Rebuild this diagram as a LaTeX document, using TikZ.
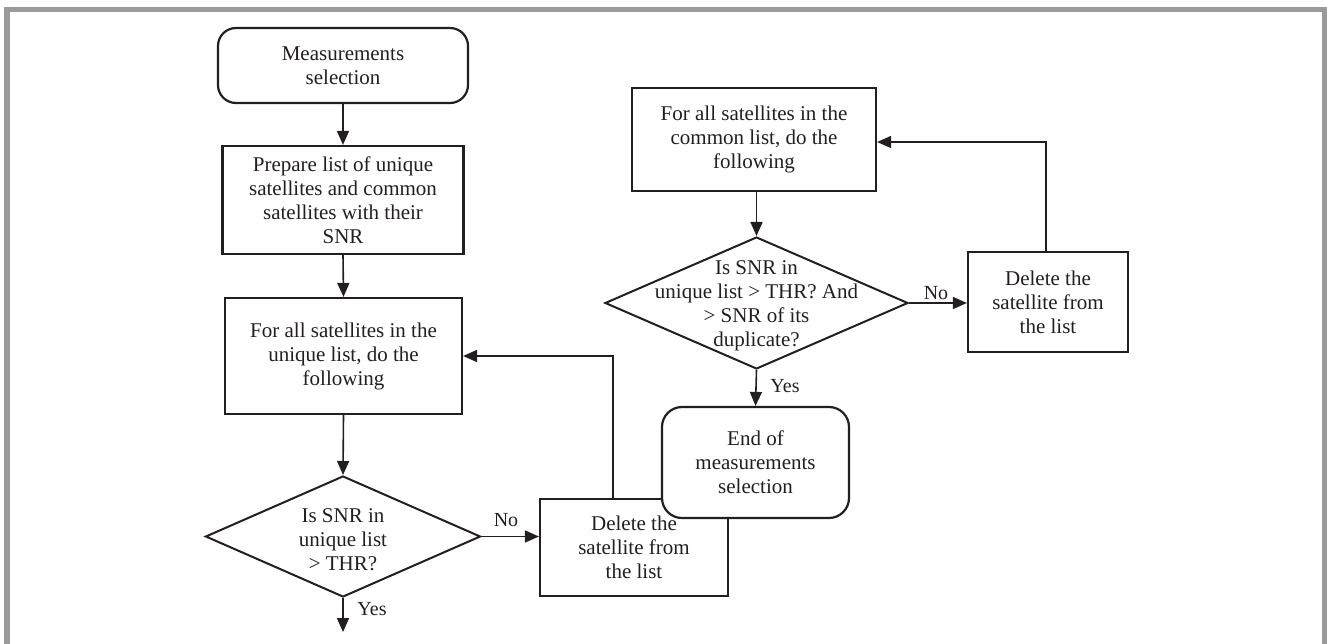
\documentclass[tikz,border=0pt]{standalone}
\usepackage{fontspec}
\setmainfont{Liberation Serif}
\usetikzlibrary{arrows.meta,shapes.geometric}
\definecolor{ink}{HTML}{231F20}
\definecolor{framegray}{HTML}{9A9A9A}
\begin{document}
\begin{tikzpicture}[x=1pt,y=-1pt,
  font=\fontsize{21}{24}\selectfont,
  every node/.style={text=ink},
  box/.style={draw=ink, line width=2.2pt, fill=white, align=center, inner sep=0pt},
  term/.style={box, rounded corners=18pt},
  decision/.style={draw=ink, line width=2pt, shape=diamond, inner sep=0pt},
  caption/.style={align=center, inner sep=0pt},
  link/.style={draw=ink, line width=1.6pt, -{Triangle[length=14pt,width=12pt]}},
  lbl/.style={font=\fontsize{20}{22}\selectfont, inner sep=0pt}]

\useasboundingbox (0,0) rectangle (1327,644);

% outer frame (open at the bottom edge of the page)
\begin{scope}
  \clip (0,0) rectangle (1327,644);
  \draw[framegray, line width=5.5pt] (7,9.5) rectangle (1324.5,700);
\end{scope}

% left column: unique satellites
\node[term, minimum width=250pt, minimum height=75pt] (start) at (343,65.5)
  {Measurements\\selection};
\node[box, minimum width=241pt, minimum height=108pt] (prep) at (343,200)
  {Prepare list of unique\\satellites and common\\satellites with their\\SNR};
\node[box, minimum width=237pt, minimum height=116pt] (uniq) at (343.5,356)
  {For all satellites in the\\unique list, do the\\following};
\node[decision, minimum width=275pt, minimum height=121pt] (d1) at (343,536.5) {};
\node[caption] (d1text) at (343,540) {Is SNR in\\unique list\\> THR?};
\node[box, minimum width=188pt, minimum height=97pt] (del1) at (634,547.5)
  {Delete the\\satellite from\\the list};

% right column: common satellites
\node[box, minimum width=244pt, minimum height=103pt] (common) at (754,139.5)
  {For all satellites in the\\common list, do the\\following};
\node[decision, minimum width=303pt, minimum height=132pt] (d2) at (756.5,303) {};
\node[caption] (d2text) at (756.5,306)
  {Is SNR in\\unique list > THR? And\\> SNR of its\\duplicate?};
\node[box, minimum width=160pt, minimum height=100pt] (del2) at (1048,302)
  {Delete the\\satellite from\\the list};
\node[term, rounded corners=20pt, minimum width=187pt, minimum height=111pt] (end) at (755.5,462.5)
  {End of\\measurements\\selection};

% connectors
\coordinate (yes1end) at (343,632);
\draw[link] (start.south) -- (prep.north);
\draw[link] (prep.south) -- (uniq.north);
\draw[link] (uniq.south) -- (d1.north);
\draw[link] (d1.south) -- (yes1end);
\node[lbl] (yes1) at (372,609) {Yes};
\draw[link] (d1.east) -- (d1.east -| del1.west);
\node[lbl] (no1) at (506,520) {No};
\draw[link] ([xshift=-21pt]del1.north) |- (uniq.east);

\draw[link] (d2.north |- common.south) -- (d2.north);
\draw[link] (d2.south) -- (end.north);
\node[lbl] (yes2) at (785,386) {Yes};
\draw[link] (d2.east) -- (d2.east -| del2.west);
\node[lbl] (no2) at (936,293) {No};
\draw[link] ([xshift=-2pt]del2.north) |- ([yshift=-2.5pt]common.east);
\end{tikzpicture}
\end{document}
